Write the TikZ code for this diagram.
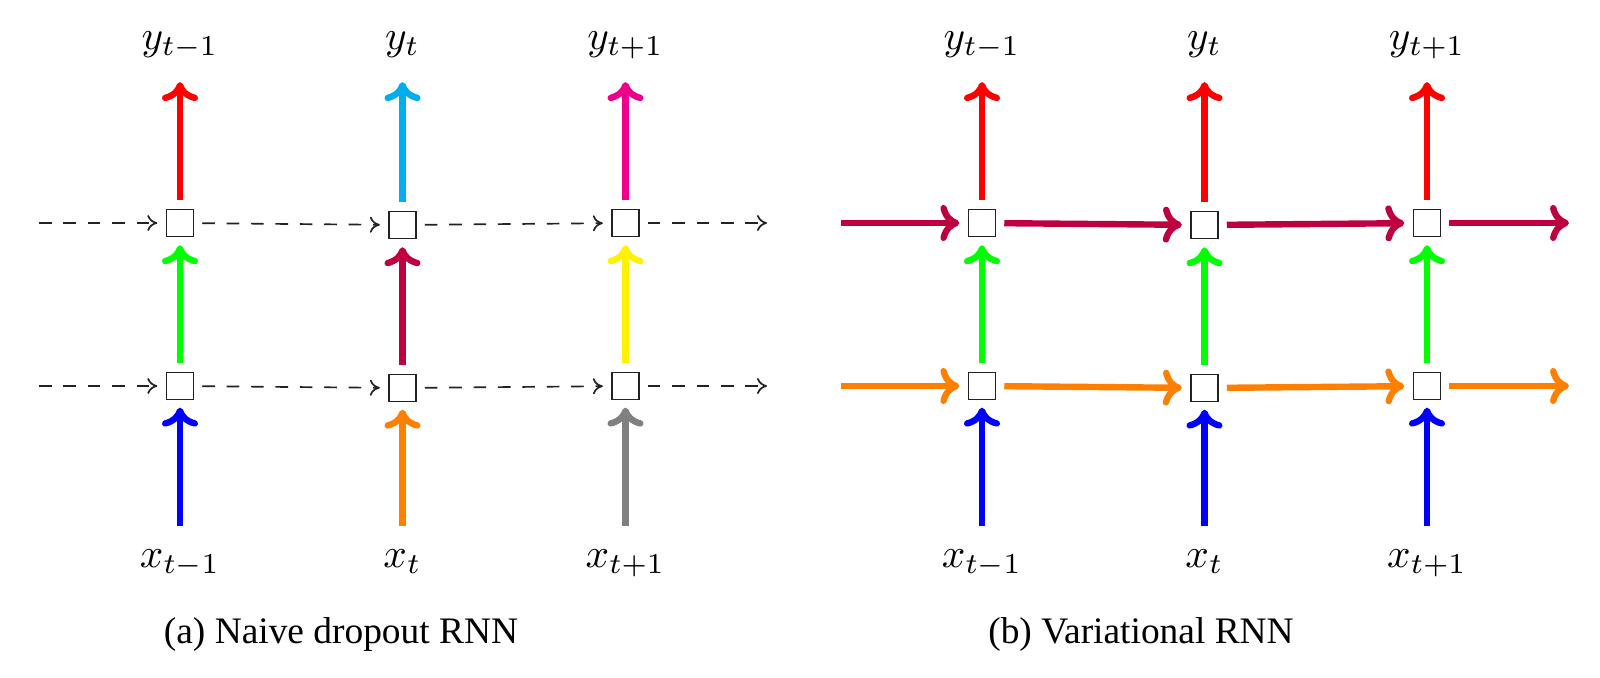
\documentclass[tikz,border=0pt]{standalone}
\usepackage[no-math]{fontspec}
\usepackage{graphicx}
\setmainfont{Liberation Serif}
\usetikzlibrary{arrows.meta}
\definecolor{cRed}{RGB}{255,0,0}
\definecolor{cCyan}{RGB}{0,174,239}
\definecolor{cMagenta}{RGB}{236,0,140}
\definecolor{cGreen}{RGB}{0,255,0}
\definecolor{cPurple}{RGB}{191,0,64}
\definecolor{cYellow}{RGB}{255,242,0}
\definecolor{cOrange}{RGB}{255,128,0}
\definecolor{cGray}{RGB}{128,128,128}
\definecolor{cBlue}{RGB}{0,0,255}
\definecolor{cBox}{RGB}{34,34,34}
\newcommand{\biglab}[1]{\scalebox{2.06}{\fontsize{10}{12}\selectfont$#1$}}
\tikzset{
  cell/.style={draw=cBox, line width=0.65pt, minimum size=13.6pt, inner sep=0pt, fill=white},
  lab/.style={inner sep=0pt, anchor=base, text height=9pt, text depth=4.5pt},
  captext/.style={inner sep=0pt, anchor=base, font=\fontsize{18.7}{22}\selectfont},
  fat/.style={line width=3.2pt, -{To[length=9.5pt,width=18pt,round]}},
  vup/.style={fat, shorten <=4.5pt, shorten >=4pt},
  vtop/.style={fat, shorten <=4.5pt, shorten >=11.65pt},
  vbot/.style={fat, shorten <=11.15pt, shorten >=3.7pt},
  hfat/.style={fat, shorten <=4pt, shorten >=4.2pt},
  hdash/.style={line width=0.85pt, draw=cBox, dash pattern=on 6.3pt off 5.9pt, -{To[length=5pt,width=8pt]}, shorten <=4pt, shorten >=4.2pt},
}
\begin{document}
\begin{tikzpicture}[x=0.5pt,y=-0.5pt]
\useasboundingbox (0,0) rectangle (1600,678);
% ---------- (a) Naive dropout RNN ----------
\node[cell] (a1t) at (180,223) {};
\node[cell] (a2t) at (402.5,225) {};
\node[cell] (a3t) at (625.5,223) {};
\node[cell] (a1b) at (180,386) {};
\node[cell] (a2b) at (402.5,388) {};
\node[cell] (a3b) at (625.5,386) {};
\node[lab] (ay1) at (180,49.4) {\biglab{y_{t-1}}};
\node[lab] (ay2) at (402.5,49.4) {\biglab{y_{t}}};
\node[lab] (ay3) at (625.5,49.4) {\biglab{y_{t+1}}};
\node[lab] (ax1) at (180,567) {\biglab{x_{t-1}}};
\node[lab] (ax2) at (402.5,567) {\biglab{x_{t}}};
\node[lab] (ax3) at (625.5,567) {\biglab{x_{t+1}}};
\coordinate (aint) at (39,223);
\coordinate (ainb) at (39,386);
\coordinate (aoutt) at (767,223);
\coordinate (aoutb) at (767,386);
\draw[hdash, shorten <=0pt] (aint) -- (a1t);
\draw[hdash] (a1t) -- (a2t);
\draw[hdash] (a2t) -- (a3t);
\draw[hdash, shorten >=0pt] (a3t) -- (aoutt);
\draw[hdash, shorten <=0pt] (ainb) -- (a1b);
\draw[hdash] (a1b) -- (a2b);
\draw[hdash] (a2b) -- (a3b);
\draw[hdash, shorten >=0pt] (a3b) -- (aoutb);
\draw[vtop, cRed] (a1t) -- (ay1.south);
\draw[vtop, cCyan] (a2t) -- (ay2.south);
\draw[vtop, cMagenta] (a3t) -- (ay3.south);
\draw[vup, cGreen] (a1b) -- (a1t);
\draw[vup, cPurple] (a2b) -- (a2t);
\draw[vup, cYellow] (a3b) -- (a3t);
\draw[vbot, cBlue] (ax1.north) -- (a1b);
\draw[vbot, cOrange] (ax2.north) -- (a2b);
\draw[vbot, cGray] (ax3.north) -- (a3b);
\node[captext] (capa) at (341,643.3) {(a) Naive dropout RNN};
% ---------- (b) Variational RNN ----------
\node[cell] (b1t) at (982,223) {};
\node[cell] (b2t) at (1204.5,225) {};
\node[cell] (b3t) at (1427,223) {};
\node[cell] (b1b) at (982,386) {};
\node[cell] (b2b) at (1204.5,388) {};
\node[cell] (b3b) at (1427,386) {};
\node[lab] (by1) at (982,49.4) {\biglab{y_{t-1}}};
\node[lab] (by2) at (1204.5,49.4) {\biglab{y_{t}}};
\node[lab] (by3) at (1427,49.4) {\biglab{y_{t+1}}};
\node[lab] (bx1) at (982,567) {\biglab{x_{t-1}}};
\node[lab] (bx2) at (1204.5,567) {\biglab{x_{t}}};
\node[lab] (bx3) at (1427,567) {\biglab{x_{t+1}}};
\coordinate (bint) at (841,223);
\coordinate (binb) at (841,386);
\coordinate (boutt) at (1569,223);
\coordinate (boutb) at (1569,386);
\draw[hfat, cPurple, shorten <=0pt] (bint) -- (b1t);
\draw[hfat, cPurple] (b1t) -- (b2t);
\draw[hfat, cPurple] (b2t) -- (b3t);
\draw[hfat, cPurple, shorten >=0pt] (b3t) -- (boutt);
\draw[hfat, cOrange, shorten <=0pt] (binb) -- (b1b);
\draw[hfat, cOrange] (b1b) -- (b2b);
\draw[hfat, cOrange] (b2b) -- (b3b);
\draw[hfat, cOrange, shorten >=0pt] (b3b) -- (boutb);
\draw[vtop, cRed] (b1t) -- (by1.south);
\draw[vtop, cRed] (b2t) -- (by2.south);
\draw[vtop, cRed] (b3t) -- (by3.south);
\draw[vup, cGreen] (b1b) -- (b1t);
\draw[vup, cGreen] (b2b) -- (b2t);
\draw[vup, cGreen] (b3b) -- (b3t);
\draw[vbot, cBlue] (bx1.north) -- (b1b);
\draw[vbot, cBlue] (bx2.north) -- (b2b);
\draw[vbot, cBlue] (bx3.north) -- (b3b);
\node[captext] (capb) at (1141,643.3) {(b) Variational RNN};
\end{tikzpicture}
\end{document}
